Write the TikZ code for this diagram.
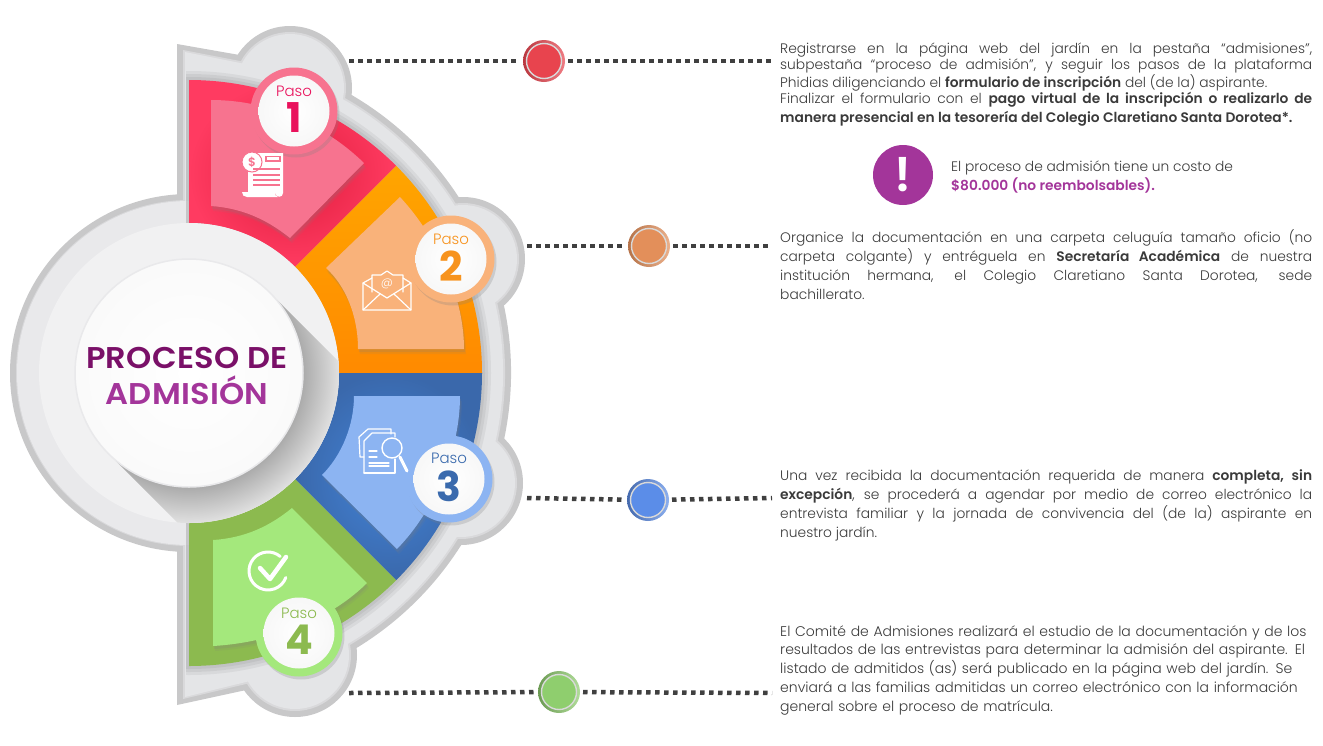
\documentclass[tikz,border=0pt]{standalone}
\usepackage{fontspec}
\setmainfont[UprightFont=* Light,BoldFont=* SemiBold]{Poppins}
\newfontfamily\titlefont[UprightFont=* SemiBold,FakeStretch=1.07,LetterSpace=1]{Poppins}
\newfontfamily\numfont[UprightFont=* Bold]{Poppins}
\usetikzlibrary{calc,shadows}
\definecolor{framedark}{HTML}{C8C8C9}
\definecolor{framemid}{HTML}{D9D9DB}
\definecolor{framelight}{HTML}{E4E5E7}
\definecolor{discgray}{HTML}{F1F1F2}
\definecolor{ringgray}{HTML}{E9E9EB}
\definecolor{pinkpanel}{HTML}{F7738F}
\definecolor{orangepanel}{HTML}{F9B27A}
\definecolor{bluepanel}{HTML}{8CB4F2}
\definecolor{greenpanel}{HTML}{A4E87C}
\definecolor{redin}{HTML}{DF1C3C}
\definecolor{redout}{HTML}{FF3B61}
\definecolor{orangetop}{HTML}{FFA500}
\definecolor{orangebot}{HTML}{FF8A00}
\definecolor{bluein}{HTML}{4384D8}
\definecolor{blueout}{HTML}{3A68AB}
\definecolor{greensector}{HTML}{8CBA4F}
\definecolor{pinktext}{HTML}{E9125C}
\definecolor{orangetext}{HTML}{F7931E}
\definecolor{bluetext}{HTML}{3A6AAD}
\definecolor{titledark}{HTML}{7A1068}
\definecolor{titlelight}{HTML}{A3359A}
\definecolor{dotgray}{HTML}{404040}
\definecolor{bodytext}{HTML}{3A3A3A}
\definecolor{dotred}{HTML}{E8444E}
\definecolor{dotorange}{HTML}{E38F5A}
\definecolor{dotblue}{HTML}{5B8DE8}
\definecolor{dotgreen}{HTML}{8FCE6E}
\pgfdeclareradialshading{discshade}{\pgfpoint{0bp}{0bp}}{color(0bp)=(black!33); color(19bp)=(black!33); color(25bp)=(black!12); color(50bp)=(black!12)}
\tikzset{
  redwedge/.style={inner color=redin,outer color=redout},
  orangewedge/.style={top color=orangetop,bottom color=orangebot},
  bluewedge/.style={inner color=bluein,outer color=blueout},
  greenwedge/.style={fill=greensector},
  panel/.style={drop shadow={shadow xshift=2pt,shadow yshift=-5pt,opacity=.12},drop shadow={shadow xshift=1pt,shadow yshift=-3pt,opacity=.2}},
  pasoring/.style={circle,minimum size=87pt,inner sep=0pt,drop shadow={shadow xshift=2pt,shadow yshift=-3pt,opacity=.25}},
  pasoface/.style={circle,minimum size=71pt,inner sep=0pt,inner color=white,outer color=black!3},
  pasolabel/.style={font=\fontsize{15}{15}\selectfont,inner sep=0pt},
  pasonum/.style={font=\fontsize{41}{41}\numfont,inner sep=0pt},
  stepdot/.style n args={3}{circle,minimum size=42pt,inner sep=0pt,outer sep=3pt,left color=#2,right color=#3,
    path picture={\fill[#1] (path picture bounding box.center) circle (17pt);
      \draw[white!85!black,line width=1.4pt] (path picture bounding box.center) circle (17.5pt);}},
  dotline/.style={dotgray,line width=4.5pt,dash pattern=on 4.5pt off 4.5pt},
  bodytext/.style={anchor=north west,inner sep=0pt,text width=532pt,align=justify,text=bodytext,font=\fontsize{13.8}{19}\selectfont},
  iconline/.style={draw=white,line width=1.2pt,line join=round,line cap=round},
  titletext/.style={inner sep=0pt,font=\fontsize{30}{30}\titlefont},
}
\begin{document}
\begin{tikzpicture}[x=1pt,y=-1pt]
\useasboundingbox (0,0) rectangle (1323,745);
\coordinate (O) at (189,373);
% frame with its four bumps
\foreach \d/\c in {0/framedark,6/framemid,8/framelight}{
  \fill[\c] ({177+\d},{44+\d}) -- ($(O)+(-79:{322-\d})$) arc[start angle=-79,end angle=79,radius={322-\d}] -- ({177+\d},{705-\d}) -- cycle;
  \fill[\c] (O) circle ({179-\d});
  \fill[\c] (290,88) circle ({62-\d});
  \fill[\c] (463,259) circle ({62-\d});
  \fill[\c] (461,483) circle ({62-\d});
  \fill[\c] (295,655) circle ({62-\d});
}
\fill[ringgray] (O) circle (172);
% soft shadow round the wheel
\begin{scope}
  \clip (186,0) rectangle (600,745);
  \foreach \r in {302,299,296}{\fill[black,opacity=.05] (O) circle (\r);}
\end{scope}
% coloured sectors
\foreach \a/\s in {-90/redwedge,-45/orangewedge,0/bluewedge,45/greenwedge}{
  \path[\s] ($(O)+(\a:293)$) arc[start angle=\a,end angle={\a+45},radius=293] -- ($(O)+({\a+45}:150)$) arc[start angle={\a+45},end angle=\a,radius=150] -- cycle;
}
% panels
\fill[pinkpanel,panel] (211,100) .. controls (270,100) and (325,125) .. (364,163) -- (290,238) .. controls (265,218) and (240,208) .. (211,206) -- cycle;
\fill[orangepanel,panel] (400,197) -- (326,268) .. controls (345,285) and (358,315) .. (358,349) -- (464,349) .. controls (464,300) and (440,240) .. (400,197) -- cycle;
\fill[bluepanel,panel] (354,396) -- (460,396) .. controls (460,450) and (435,510) .. (397,549) -- (322,475) .. controls (342,455) and (354,425) .. (354,396) -- cycle;
\fill[greenpanel,panel] (213,540) .. controls (245,538) and (270,526) .. (292,508) -- (367,583) .. controls (335,615) and (280,642) .. (213,646) -- cycle;
% centre disc and its long shadow
\fill[discgray] (O) circle (150);
\begin{scope}
  \clip (O) circle (150);
  \clip ($(O)+(-45:114)$) -- ++(200,200) -- ($(O)+(135:114)+(200,200)$) -- ($(O)+(135:114)$) -- cycle;
  \shade[shading=discshade] (O) circle (150);
\end{scope}
\node[circle,minimum size=228pt,inner sep=0pt,draw=ringgray,line width=1.5pt,inner color=white,outer color=black!2] (centre) at (O) {};
\node[titletext,text=titledark] (title1) at (187,358) {PROCESO DE};
\node[titletext,text=titlelight] (title2) at (187,390) {ADMISIÓN};
% paso circles
\foreach \n/\x/\y/\r/\t/\off in {1/294/111/pinkpanel/pinktext/20,2/451/259/orangepanel/orangetext/20,3/449/479/bluepanel/bluetext/21,4/299/633/greenpanel/greensector/20}{
  \node[pasoring,fill=\r] (paso\n) at (\x,\y) {};
  \node[pasoface] (face\n) at (paso\n) {};
  \node[pasolabel,text=\t] (label\n) at ([yshift=\off pt]paso\n) {Paso};
  \node[pasonum,text=\t] (num\n) at ([yshift=-7pt]paso\n) {\n};
}
% receipt icon
\fill[white] (255,153) -- (283,153) -- (283,193) .. controls (283,198) and (276,198) .. (275,193) -- (248,193) -- (248,170) -- (255,170) -- cycle;
\fill[white] (242,192) -- (275,192) .. controls (275,195) and (276,197) .. (278,197) -- (247,197) .. controls (244,197) and (242,195) .. (242,192) -- cycle;
\draw[pinkpanel,line width=1pt,fill=white] (252,162) circle (10);
\node[inner sep=0pt,text=pinkpanel,font=\fontsize{12}{12}\selectfont\bfseries] (dollar) at (252,162) {\$};
\draw[pinkpanel,line width=1.4pt] (266,156.5) rectangle (280,161);
\foreach \y in {169,175,180,185}{\draw[pinkpanel,line width=1.4pt] (253,\y) -- (280,\y);}
% envelope icon
\draw[iconline] (372,292) -- (372,275) -- (381,275) -- (387,271) -- (393,275) -- (403,275) -- (403,292);
\draw[iconline] (372,278) -- (363,283) -- (363,310) -- (411,310) -- (411,283) -- (403,278);
\draw[iconline] (363,283) -- (387,298) -- (411,283);
\draw[iconline] (363,310) -- (380,294);
\draw[iconline] (411,310) -- (394,294);
\node[inner sep=0pt,text=white,font=\fontsize{12}{12}\selectfont] (arroba) at (387,284) {@};
% documents icon
\draw[iconline] (364,457) -- (360,457) -- (359,437) -- (368,429) -- (391,429) -- (391,434);
\draw[iconline] (364,473) -- (364,441) -- (372,433) -- (395,433) -- (395,437);
\draw[iconline] (364,473) -- (395,473) -- (395,459);
\foreach \y/\e in {451/377,457/377,463/389,466/389}{\draw[iconline] (369,\y) -- (\e,\y);}
\draw[white,line width=1.4pt,fill=bluepanel] (392,448) circle (10);
\draw[white,line width=3pt,line cap=round] (400,457) -- (407,471);
% check icon
\draw[white,line width=3pt,line cap=round] ($(268,571)+(-50:19)$) arc[start angle=-50,end angle=-340,radius=19];
\draw[white,line width=4.5pt,line cap=round,line join=round] (260,568) -- (270,579) -- (286,557);
% connectors and dots
\node[stepdot={dotred}{dotred!80!black}{dotred!70!white}] (dot1) at (544,61) {};
\node[stepdot={dotorange}{dotorange!80!black}{dotorange!70!white}] (dot2) at (649,246) {};
\node[stepdot={dotblue}{dotblue!75!black}{dotblue!70!white}] (dot3) at (648,500) {};
\node[stepdot={dotgreen}{dotgreen!75!black}{dotgreen!70!white}] (dot4) at (559,692) {};
\coordinate (left1) at (349,61);
\coordinate (right1) at (772,61);
\coordinate (left2) at (527,246);
\coordinate (right2) at (772,246);
\coordinate (left3) at (527,498);
\coordinate (right3) at (772,498);
\coordinate (left4) at (349,693);
\coordinate (right4) at (772,693);
\foreach \n in {1,...,4}{
  \draw[dotline] (left\n) -- (dot\n);
  \draw[dotline] (dot\n) -- (right\n);
}
% texts
\node[bodytext,font=\fontsize{13.8}{16.2}\selectfont] (text1a) at (780,42.5) {Registrarse en la página web del jardín en la pestaña “admisiones”,\linebreak subpestaña “proceso de admisión”, y seguir los pasos de la plataforma\linebreak Phidias diligenciando el \textbf{formulario de inscripción} del (de la) aspirante.};
\node[bodytext] (text1b) at (780,92) {Finalizar el formulario con el \textbf{pago virtual de la inscripción o realizarlo de\linebreak manera presencial en la tesorería del Colegio Claretiano Santa Dorotea*.}};
\node[circle,minimum size=60pt,inner sep=0pt,fill=titlelight,text=white,font=\fontsize{48}{48}\selectfont\bfseries] (warn) at (903,175) {!};
\node[anchor=north west,inner sep=0pt,align=left,text=bodytext,font=\fontsize{13.8}{19}\selectfont] (cost) at (951,161) {El proceso de admisión tiene un costo de\\\textcolor{titlelight}{\textbf{\$80.000 (no reembolsables).}}};
\node[bodytext] (text2) at (780,229) {Organice la documentación en una carpeta celuguía tamaño oficio (no\linebreak carpeta colgante) y entréguela en \textbf{Secretaría Académica} de nuestra\linebreak institución hermana, el Colegio Claretiano Santa Dorotea, sede\linebreak bachillerato.};
\node[bodytext] (text3) at (780,469) {Una vez recibida la documentación requerida de manera \textbf{completa, sin\linebreak excepción}, se procederá a agendar por medio de correo electrónico la\linebreak entrevista familiar y la jornada de convivencia del (de la) aspirante en\linebreak nuestro jardín.};
\node[bodytext,align=left,font=\fontsize{14}{18.8}\selectfont] (text4) at (780,625) {El Comité de Admisiones realizará el estudio de la documentación y de los\\resultados de las entrevistas para determinar la admisión del aspirante. El\\listado de admitidos (as) será publicado en la página web del jardín. Se\\enviará a las familias admitidas un correo electrónico con la información\\general sobre el proceso de matrícula.};
\end{tikzpicture}
\end{document}
